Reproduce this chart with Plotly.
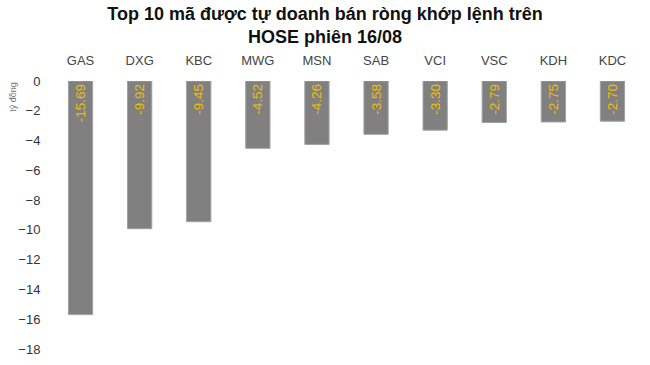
import plotly.graph_objects as go

codes = ["GAS", "DXG", "KBC", "MWG", "MSN", "SAB", "VCI", "VSC", "KDH", "KDC"]
values = [-15.69, -9.92, -9.45, -4.52, -4.26, -3.58, -3.30, -2.79, -2.75, -2.70]
y_ticks = [0, -2, -4, -6, -8, -10, -12, -14, -16, -18]

fig = go.Figure(go.Bar(
    x=codes, y=values,
    text=[f"{v:.2f}" for v in values],
    textposition="inside", insidetextanchor="start", textangle=-90,
    textfont=dict(color="#f0be00", size=13.5, family="Liberation Sans, Arial"),
    marker=dict(color="#808080", line=dict(color="#a0a0a0", width=1)),
    cliponaxis=False,
))

fig.update_layout(
    width=650, height=365,
    margin=dict(l=51, r=8, t=81, b=12),
    paper_bgcolor="white", plot_bgcolor="white",
    bargap=0.59,
    showlegend=False,
    font=dict(family="Liberation Sans, Arial", color="#333"),
    title=dict(text="Top 10 mã được tự doanh bán ròng khớp lệnh trên<br>HOSE phiên 16/08",
               x=0.5, xanchor="center", y=0.945, yanchor="top",
               font=dict(size=18, color="#111", family="Liberation Sans, Arial", weight="bold")),
    xaxis=dict(side="top", showgrid=False, showline=False, zeroline=False,
               tickfont=dict(size=13, color="#444"), ticks="outside", ticklen=10,
               tickcolor="rgba(0,0,0,0)"),
    yaxis=dict(range=[-18, 0], tickvals=y_ticks, showgrid=False, zeroline=False,
               showline=False, tickfont=dict(size=13, color="#333"),
               ticks="outside", ticklen=7, tickcolor="rgba(0,0,0,0)"),
    annotations=[dict(text="tỷ đồng", xref="paper", yref="paper", x=-0.065, y=0.94,
                      xanchor="center", yanchor="middle", textangle=-90, showarrow=False,
                      font=dict(size=9, color="#777"))],
)

fig.write_html("out.html")
